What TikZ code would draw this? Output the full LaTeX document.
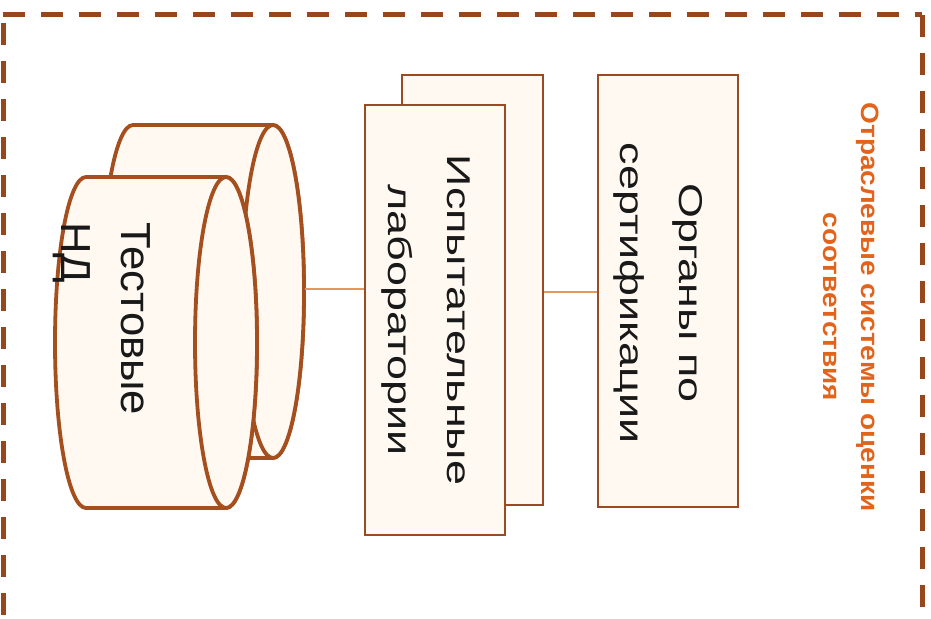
\documentclass[tikz,border=0pt]{standalone}
\usepackage{fontspec}
\setmainfont{Liberation Sans}
\definecolor{frm}{RGB}{152,70,28}
\definecolor{cylc}{RGB}{165,78,30}
\definecolor{boxc}{RGB}{155,75,35}
\definecolor{fillc}{RGB}{255,249,242}
\definecolor{connc}{RGB}{230,152,88}
\definecolor{orng}{RGB}{226,100,28}
\definecolor{txtc}{RGB}{25,25,25}
\begin{document}
\begin{tikzpicture}[x=1pt,y=-1pt,
  frame/.style={draw=frm,line width=5pt,dash pattern=on 22pt off 16pt},
  cylbody/.style={draw=cylc,fill=fillc,line width=3.8pt,line join=round},
  cylghost/.style={inner sep=0pt,outer sep=0pt},
  box/.style={draw=boxc,fill=fillc,line width=2.5pt,inner sep=0pt},
  conn/.style={draw=connc,line width=1.8pt},
  txt/.style={rotate=-90,inner sep=0pt,text=txtc},
]
\useasboundingbox (0,0) rectangle (931,618);
\clip (0,0) rectangle (931,618);
% dashed frame (bottom edge lies outside the picture)
\draw[frame] (3,15) -- (922,15);
\draw[frame] (922,15) -- (922,660);
\draw[frame,dash phase=30pt] (3,15) -- (3,660);
% named extents of the cylinders
\node[cylghost,minimum width=202pt,minimum height=333pt] (cylB) at (203.5,291.5) {};
\node[cylghost,minimum width=202pt,minimum height=331pt] (cylA) at (156,342.5) {};
% back cylinder
\path[cylbody] (273,125) -- (133,125)
  arc[start angle=270,end angle=90,x radius=31,y radius=166.5]
  -- (273,458)
  arc[start angle=90,end angle=-90,x radius=31,y radius=166.5] -- cycle;
\draw[cylbody] (273,291.5) ellipse[x radius=31,y radius=166.5];
% front cylinder
\path[cylbody] (226,177) -- (86,177)
  arc[start angle=270,end angle=90,x radius=31,y radius=165.5]
  -- (226,508)
  arc[start angle=90,end angle=-90,x radius=31,y radius=165.5] -- cycle;
\draw[cylbody] (226,342.5) ellipse[x radius=31,y radius=165.5];
% boxes
\node[box,minimum width=141pt,minimum height=430pt] (labB) at (472.5,290) {};
\node[box,minimum width=140pt,minimum height=430pt] (labA) at (435,320) {};
\node[box,minimum width=140pt,minimum height=432pt] (org) at (668,291) {};
% connectors
\coordinate (c1) at ([yshift=2.5pt]cylB.east);
\coordinate (c2) at ([yshift=-2pt]labB.east);
\draw[conn] (c1) -- (labA.west |- c1);
\draw[conn] (c2) -- (org.west |- c2);
% texts
\node[txt,anchor=north west,align=left,xscale=1.04,font=\fontsize{42}{60}\selectfont] (tcyl) at (151,222) {Тестовые\\НД};
\node[txt,anchor=north,align=center,xscale=1.36,font=\fontsize{33}{59}\selectfont] (tlab) at (470,320) {Испытательные\\лаборатории};
\node[txt,anchor=north,align=center,xscale=1.36,font=\fontsize{33}{59}\selectfont] (torg) at (703,293) {Органы по\\сертификации};
\node[txt,anchor=north,align=center,xscale=1.12,text=orng,font=\bfseries\fontsize{25}{38}\selectfont] (tsys) at (879,307) {Отраслевые системы оценки\\соответствия};
\end{tikzpicture}
\end{document}
